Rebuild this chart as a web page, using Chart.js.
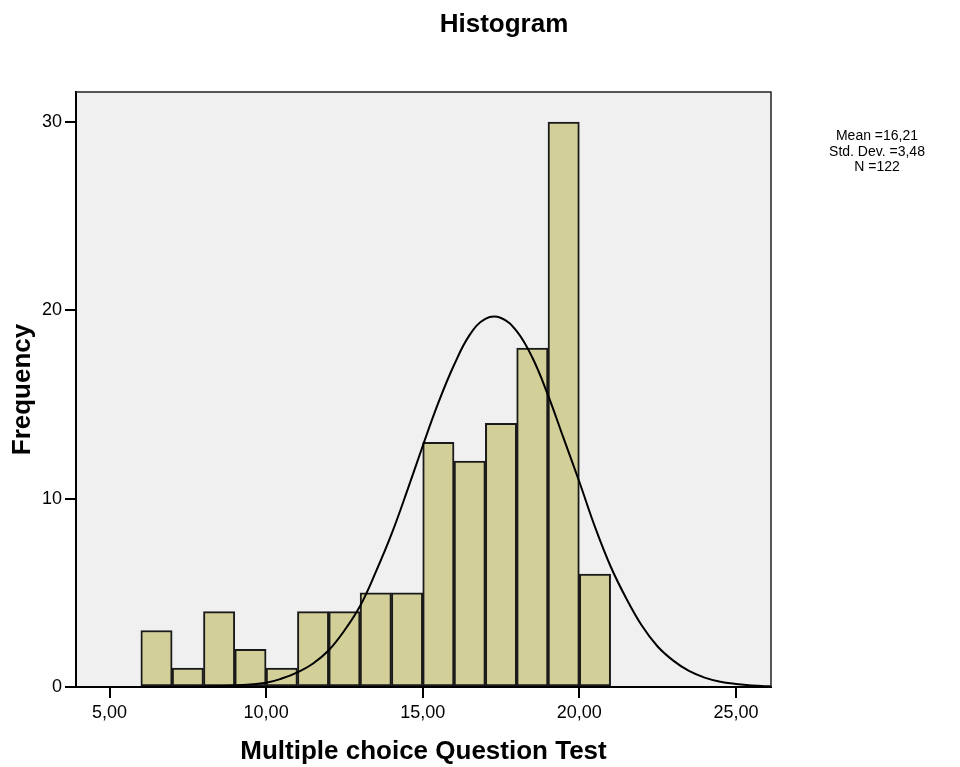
<!DOCTYPE html>
<html lang="en">
<head>
<meta charset="utf-8">
<title>Histogram</title>
<script src="https://cdn.jsdelivr.net/npm/chart.js@4/dist/chart.umd.min.js"></script>
<style>
  html, body { margin: 0; padding: 0; background: #fff; }
  #wrap { position: relative; width: 960px; height: 767px; }
  #chart { position: absolute; left: 0; top: 0; }
  .title {
    position: absolute; left: 404px; top: 10px; width: 200px;
    text-align: center; font: bold 26px 'Liberation Sans', Arial, sans-serif;
    line-height: 26px; color: #000;
  }
  .stats {
    position: absolute; left: 777px; top: 128px; width: 200px;
    text-align: center; font: 14px 'Liberation Sans', Arial, sans-serif;
    line-height: 15.7px; color: #000;
  }
</style>
</head>
<body>
<div id="wrap">
  <canvas id="chart" width="960" height="767"></canvas>
  <div class="title">Histogram</div>
  <div class="stats">Mean =16,21<br>Std. Dev. =3,48<br>N =122</div>
</div>
<script>
/* ── Datos ── */
const BIN_START = [6, 7, 8, 9, 10, 11, 12, 13, 14, 15, 16, 17, 18, 19, 20];
const COUNTS    = [3, 1, 4, 2, 1,  4,  4,  5,  5,  13, 12, 14, 18, 30, 6];

// normal curve
const CURVE_X = [4, 5, 6, 7, 8, 9, 10, 10.5, 11, 11.5, 12, 12.5, 13, 13.5, 14, 14.5, 15, 15.5, 16, 16.5,
                 17, 17.5, 18, 18.5, 19, 19.5, 20, 20.5, 21, 21.5, 22, 22.5, 23, 23.5, 24, 24.5, 25, 25.5, 26, 26.5];
const CURVE_Y = [0, 0, 0, 0.01, 0.03, 0.08, 0.23, 0.45, 0.78, 1.25, 1.95, 3.0, 4.3, 6.1, 8.1, 10.4, 12.8, 15.1, 17.1, 18.7,
                 19.55, 19.6, 18.9, 17.5, 15.5, 13.2, 10.9, 8.5, 6.4, 4.7, 3.25, 2.15, 1.4, 0.85, 0.5, 0.28, 0.16, 0.08, 0.04, 0.02];

const X_TICKS  = [5, 10, 15, 20, 25];
const X_LABELS = ['5,00', '10,00', '15,00', '20,00', '25,00'];
const Y_TICKS  = [0, 10, 20, 30];

const BAR_FILL = '#d3cf99';
const PLOT_BG  = '#f0f0f0';
const FONT     = "'Liberation Sans', Arial, sans-serif";

/* ── Fondo y marco del área ── */
const plotFrame = {
  id: 'plotFrame',
  beforeDraw(chart) {
    const { ctx, chartArea: a } = chart;
    ctx.save();
    ctx.fillStyle = PLOT_BG;
    ctx.fillRect(a.left, a.top, a.right - a.left, a.bottom - a.top);
    ctx.restore();
  },
  afterDraw(chart) {
    const { ctx, chartArea: a } = chart;
    ctx.save();
    ctx.strokeStyle = '#222';
    ctx.lineWidth = 1.5;
    ctx.beginPath();
    ctx.moveTo(a.left, a.top);
    ctx.lineTo(a.right, a.top);
    ctx.lineTo(a.right, a.bottom);
    ctx.stroke();
    ctx.restore();
  },
};

/* ── Histograma ── */
function initHistogram() {
  Chart.defaults.font.family = FONT;
  Chart.defaults.color = '#000';

  const bars  = BIN_START.map((b, i) => ({ x: b + 0.5, y: COUNTS[i] }));
  const curve = CURVE_X.map((x, i) => ({ x, y: CURVE_Y[i] }));

  new Chart(document.getElementById('chart'), {
    type: 'bar',
    data: {
      datasets: [
        {
          type: 'line',
          data: curve,
          borderColor: '#000',
          borderWidth: 2,
          pointRadius: 0,
          tension: 0.4,
          fill: false,
          order: 0,
        },
        {
          data: bars,
          backgroundColor: BAR_FILL,
          borderColor: '#1a1a1a',
          borderWidth: 2,
          borderSkipped: false,
          barPercentage: 1,
          categoryPercentage: 1,
          order: 1,
        },
      ],
    },
    options: {
      responsive: false,
      animation: false,
      layout: { padding: { top: 92, right: 189, left: 0, bottom: 0 } },
      plugins: {
        legend:  { display: false },
        tooltip: { enabled: false },
      },
      scales: {
        x: {
          type: 'linear',
          min: 3.93,
          max: 26.12,
          offset: false,
          afterBuildTicks: s => { s.ticks = X_TICKS.map(v => ({ value: v })); },
          afterFit: s => { s.height = 80; },
          ticks: {
            font: { size: 18 },
            padding: 4,
            maxRotation: 0,
            callback: v => X_LABELS[X_TICKS.indexOf(v)],
          },
          grid:   { offset: false, drawOnChartArea: false, tickLength: 11, lineWidth: 2, color: '#000' },
          border: { color: '#000', width: 2 },
          title: {
            display: true,
            text: 'Multiple choice Question Test',
            font: { size: 26, weight: 'bold' },
            padding: { top: 0, bottom: 0 },
          },
        },
        y: {
          min: 0,
          max: 31.6,
          afterBuildTicks: s => { s.ticks = Y_TICKS.map(v => ({ value: v })); },
          afterFit: s => { s.width = 76; },
          ticks: { font: { size: 18 }, padding: 3 },
          grid:   { drawOnChartArea: false, tickLength: 11, lineWidth: 2, color: '#000' },
          border: { color: '#000', width: 2 },
          title: {
            display: true,
            text: 'Frequency',
            font: { size: 26, weight: 'bold' },
            padding: { top: 7, bottom: 0 },
          },
        },
      },
    },
    plugins: [plotFrame],
  });
}

/* ── Init ── */
initHistogram();
</script>
</body>
</html>
